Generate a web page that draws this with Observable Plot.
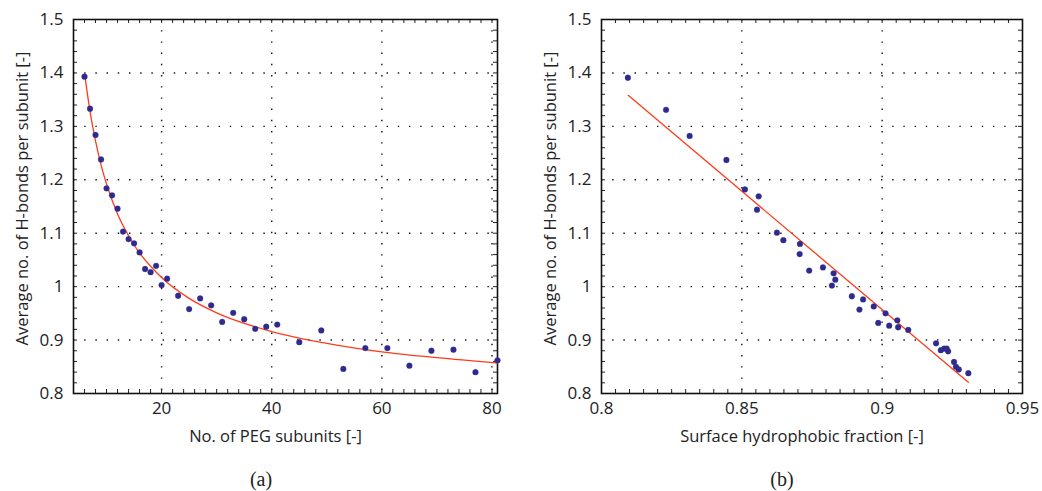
<!DOCTYPE html>
<html>
<head>
<meta charset="utf-8">
<script src="https://cdn.jsdelivr.net/npm/d3@7"></script>
<script src="https://cdn.jsdelivr.net/npm/@observablehq/plot@0.6"></script>
<style>
  html, body { margin: 0; padding: 0; background: #fff; }
  #wrap { display: flex; width: 1042px; height: 491px; }
  #wrap svg { display: block; }
</style>
</head>
<body>
<div id="wrap"></div>
<script>
// Panel (a): H-bonds per subunit versus PEG chain length
const pegSubunits = [6, 7, 8, 9, 10, 11, 12, 13, 14, 15, 16, 17, 18, 19, 20, 21,
  23, 25, 27, 29, 31, 33, 35, 37, 39, 41, 45, 49, 53, 57, 61, 65, 69, 73, 77, 81];
const hbondsA = [1.393, 1.333, 1.284, 1.238, 1.184, 1.171, 1.146, 1.103, 1.089, 1.081,
  1.064, 1.033, 1.027, 1.039, 1.003, 1.015, 0.983, 0.958, 0.978, 0.965, 0.934, 0.951,
  0.939, 0.921, 0.925, 0.929, 0.896, 0.918, 0.846, 0.885, 0.885, 0.852, 0.880, 0.882,
  0.840, 0.862];
// fitted curve through panel (a)
const fitA_x = [6, 7, 8, 9, 10, 12, 15, 20, 25, 30, 40, 50, 60, 70, 81];
const fitA_y = [1.400, 1.328, 1.273, 1.228, 1.192, 1.136, 1.078, 1.017, 0.978, 0.951,
  0.916, 0.894, 0.878, 0.867, 0.857];

// Panel (b): H-bonds per subunit versus surface hydrophobic fraction
const hydrophobicFraction = [0.8094, 0.8230, 0.8314, 0.8445, 0.8511, 0.8560, 0.8554,
  0.8625, 0.8648, 0.8707, 0.8706, 0.8740, 0.8789, 0.8827, 0.8833, 0.8821, 0.8892,
  0.8932, 0.8919, 0.8970, 0.9012, 0.8986, 0.9025, 0.9054, 0.9057, 0.9093, 0.9192,
  0.9209, 0.9221, 0.9230, 0.9235, 0.9256, 0.9263, 0.9273, 0.9307];
const hbondsB = [1.391, 1.331, 1.282, 1.237, 1.182, 1.169, 1.144, 1.101, 1.087, 1.080,
  1.061, 1.030, 1.036, 1.025, 1.013, 1.002, 0.982, 0.976, 0.957, 0.963, 0.950, 0.932,
  0.927, 0.937, 0.924, 0.919, 0.894, 0.881, 0.884, 0.884, 0.879, 0.859, 0.850, 0.845,
  0.838];
// linear trend line of panel (b)
const fitB_x = [0.8095, 0.9307];
const fitB_y = [1.358, 0.821];

// Axis ticks
const yTicks = [0.8, 0.9, 1, 1.1, 1.2, 1.3, 1.4, 1.5];
const xTicksA = [20, 40, 60, 80];
const xTicksB = [0.8, 0.85, 0.9, 0.95];

const yLabel = "Average no. of H-bonds per subunit [-]";
const xLabelA = "No. of PEG subunits [-]";
const xLabelB = "Surface hydrophobic fraction [-]";

const DOT = "#2f2b8e";
const LINE = "#ff3b1c";
const FONT = "'Open Sans', sans-serif";

function panel({width, marginLeft, marginRight, xDomain, xTicks, xMinorStep,
                xGrid, points, fit, xLabel, caption, yLabelDx}) {
  const height = 491, marginTop = 19, marginBottom = 98;
  const W = width - marginLeft - marginRight;
  const H = height - marginTop - marginBottom;
  const yMinor = d3.range(0, 36).map(i => +(0.8 + i * 0.02).toFixed(2));
  const xMinor = d3.range(Math.ceil(xDomain[0] / xMinorStep), Math.floor(xDomain[1] / xMinorStep) + 1)
    .map(i => +(i * xMinorStep).toFixed(4));
  const tickStyle = {stroke: "#222", strokeWidth: 1};
  const gridStyle = {stroke: "#111", strokeWidth: 1.4, strokeDasharray: "1.4,9.8"};
  return Plot.plot({
    width, height, marginLeft, marginRight, marginTop, marginBottom,
    style: {fontFamily: FONT, color: "#222", background: "#fff", overflow: "visible"},
    x: {domain: xDomain},
    y: {domain: [0.8, 1.5]},
    marks: [
      // dotted grid
      Plot.ruleY(yTicks.slice(1, -1), {y: d => d, ...gridStyle}),
      Plot.ruleX(xGrid, {x: d => d, ...gridStyle}),
      // inward ticks on all four sides
      Plot.tickY(yMinor, {y: d => d, insetRight: W - 4, ...tickStyle}),
      Plot.tickY(yMinor, {y: d => d, insetLeft: W - 4, ...tickStyle}),
      Plot.tickX(xMinor, {x: d => d, insetTop: H - 4, ...tickStyle}),
      Plot.tickX(xMinor, {x: d => d, insetBottom: H - 4, ...tickStyle}),
      Plot.frame({stroke: "#111", strokeWidth: 1.6}),
      // tick labels
      Plot.axisY({ticks: yTicks, tickSize: 0, tickPadding: 10, tickFormat: d => String(d),
        fontSize: 17, label: null}),
      Plot.axisX({ticks: xTicks, tickSize: 0, tickPadding: 8, tickFormat: d => String(d),
        fontSize: 17, label: null}),
      // axis titles and panel caption
      Plot.text([xLabel], {text: d => d, frameAnchor: "bottom", dx: -10, dy: 43,
        fontSize: 16.5, lineAnchor: "middle", textAnchor: "middle"}),
      Plot.text([yLabel], {text: d => d, frameAnchor: "left", rotate: -90, dx: yLabelDx, dy: -8,
        fontSize: 16.5, lineAnchor: "middle", textAnchor: "middle"}),
      Plot.text([caption], {text: d => d, frameAnchor: "bottom", dx: width / 2 - (marginLeft + W / 2),
        dy: 86, fontSize: 20, fontFamily: "'Liberation Serif', serif", lineAnchor: "middle",
        textAnchor: "middle"}),
      // fitted line and data
      Plot.line(fit.x.map((x, i) => ({x, y: fit.y[i]})), {x: "x", y: "y", stroke: LINE,
        strokeWidth: 1.3, curve: "monotone-x"}),
      Plot.dot(points.x.map((x, i) => ({x, y: points.y[i]})), {x: "x", y: "y", r: 2.9,
        fill: DOT, stroke: DOT, strokeOpacity: 0.35, strokeWidth: 0.8})
    ]
  });
}

const wrap = document.getElementById("wrap");
wrap.append(panel({
  width: 521, marginLeft: 73, marginRight: 24,
  xDomain: [4, 81], xTicks: xTicksA, xMinorStep: 2, xGrid: [20, 40, 60, 80],
  points: {x: pegSubunits, y: hbondsA}, fit: {x: fitA_x, y: fitA_y},
  xLabel: xLabelA, caption: "(a)", yLabelDx: -51
}));
wrap.append(panel({
  width: 521, marginLeft: 80, marginRight: 20,
  xDomain: [0.8, 0.95], xTicks: xTicksB, xMinorStep: 0.005, xGrid: [0.85, 0.9],
  points: {x: hydrophobicFraction, y: hbondsB}, fit: {x: fitB_x, y: fitB_y},
  xLabel: xLabelB, caption: "(b)", yLabelDx: -51
}));
</script>
</body>
</html>
